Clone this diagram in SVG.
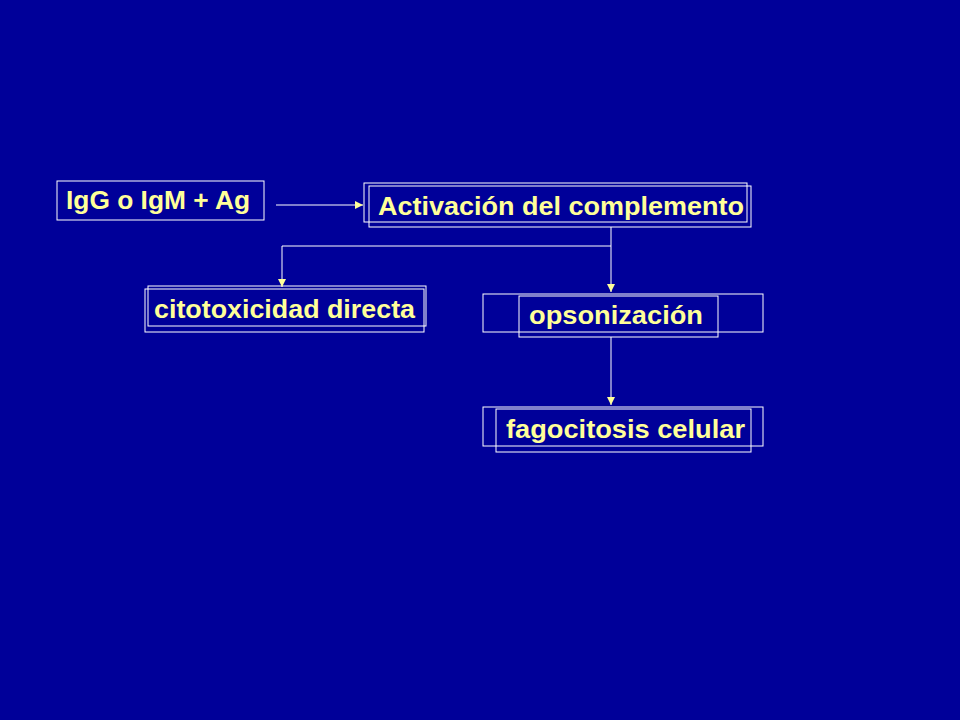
<svg xmlns="http://www.w3.org/2000/svg" width="960" height="720" viewBox="0 0 960 720">
<defs><style>
.b{fill:none;stroke:#fff;stroke-width:1}
.t{font-family:"Liberation Sans",Arial,sans-serif;font-weight:bold;font-size:25px;fill:#ffff99}
.c{fill:none;stroke:#fff;stroke-width:1}
</style>
<marker id="a" markerWidth="8" markerHeight="8" refX="8" refY="4" orient="auto" markerUnits="userSpaceOnUse"><path d="M0,0L8,4L0,8z" fill="#ffff99"/></marker></defs>
<rect width="960" height="720" fill="#000099"/>
<g id="igg"><rect class="b" x="57" y="181" width="207" height="39"/><text class="t" x="66" y="209" textLength="184" lengthAdjust="spacingAndGlyphs">IgG o IgM + Ag</text></g>
<g id="activacion"><rect class="b" x="364" y="183" width="383" height="39"/><rect class="b" x="369" y="186" width="382" height="41"/><text class="t" x="378" y="215" textLength="366" lengthAdjust="spacingAndGlyphs">Activación del complemento</text></g>
<g id="citotoxicidad"><rect class="b" x="148" y="286" width="278" height="40"/><rect class="b" x="145" y="289" width="279" height="43"/><text class="t" x="154" y="318" textLength="261" lengthAdjust="spacingAndGlyphs">citotoxicidad directa</text></g>
<g id="opsonizacion"><rect class="b" x="483" y="294" width="280" height="38"/><rect class="b" x="519" y="296" width="199" height="41"/><text class="t" x="529" y="324" textLength="174" lengthAdjust="spacingAndGlyphs">opsonización</text></g>
<g id="fagocitosis"><rect class="b" x="483" y="407" width="280" height="39"/><rect class="b" x="496" y="409" width="255" height="43"/><text class="t" x="506" y="438" textLength="239" lengthAdjust="spacingAndGlyphs">fagocitosis celular</text></g>
<g id="connectors">
<path class="c" d="M276,205H363" marker-end="url(#a)"/>
<path class="c" d="M611,227V292" marker-end="url(#a)"/>
<path class="c" d="M611,246H282V287" marker-end="url(#a)"/>
<path class="c" d="M611,337V405" marker-end="url(#a)"/>
</g>
</svg>
